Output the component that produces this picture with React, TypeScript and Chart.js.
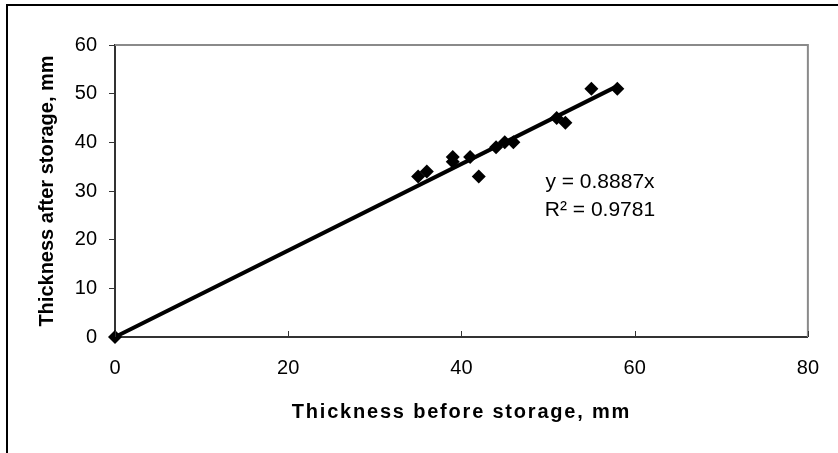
import React, { useEffect, useRef } from "react";
import { Chart, registerables } from "chart.js";

Chart.register(...registerables);

const beforeStorage = [0, 35, 36, 39, 39, 41, 42, 44, 45, 46, 51, 52, 55, 58];
const afterStorage = [0, 33, 34, 37, 36, 37, 33, 39, 40, 40, 45, 44, 51, 51];
const trendSlope = 0.8887;
const trendRange = [0, 58];
const xTicks = [0, 20, 40, 60, 80];
const yTicks = [0, 10, 20, 30, 40, 50, 60];
const equationText = "y = 0.8887x";
const r2Text = "R² = 0.9781";
const xTitle = "Thickness before storage, mm";
const yTitle = "Thickness after storage, mm";

const FONT = "'Liberation Sans', Arial, sans-serif";

const decorPlugin = {
  id: "decor",
  beforeDraw(chart: any) {
    (chart.ctx as any).letterSpacing = "0px";
  },
  afterDraw(chart: any) {
    const { ctx, chartArea, scales } = chart;
    const { left, right, top, bottom } = chartArea;
    ctx.save();
    ctx.strokeStyle = "#000";
    ctx.lineWidth = 2;
    ctx.beginPath();
    ctx.moveTo(7, 453);
    ctx.lineTo(7, 5);
    ctx.lineTo(838, 5);
    ctx.stroke();
    ctx.strokeStyle = "#8a8a8a";
    ctx.lineWidth = 2;
    ctx.beginPath();
    ctx.moveTo(left, top);
    ctx.lineTo(right, top);
    ctx.lineTo(right, bottom);
    ctx.stroke();
    ctx.strokeStyle = "#333";
    ctx.lineWidth = 1;
    xTicks.forEach((v) => {
      const px = Math.round(scales.x.getPixelForValue(v)) + 0.5;
      ctx.beginPath();
      ctx.moveTo(px, bottom);
      ctx.lineTo(px, bottom - 6);
      ctx.stroke();
    });
    ctx.fillStyle = "#000";
    ctx.font = `21px ${FONT}`;
    ctx.textAlign = "center";
    ctx.textBaseline = "middle";
    ctx.fillText(equationText, 600, 182);
    ctx.fillText(r2Text, 600, 210);
    ctx.font = `bold 20px ${FONT}`;
    (ctx as any).letterSpacing = "1.8px";
    ctx.fillText(xTitle, (left + right) / 2, 412);
    (ctx as any).letterSpacing = "0px";
    ctx.translate(47, (top + bottom) / 2);
    ctx.rotate(-Math.PI / 2);
    ctx.fillText(yTitle, 0, 0);
    ctx.restore();
    (ctx as any).letterSpacing = "0px";
  },
};

export default function App() {
  const ref = useRef<HTMLCanvasElement | null>(null);
  useEffect(() => {
    if (!ref.current) return;
    const points = beforeStorage.map((x, i) => ({ x, y: afterStorage[i] }));
    const trend = trendRange.map((x) => ({ x, y: trendSlope * x }));
    const chart = new Chart(ref.current, {
      type: "scatter",
      data: {
        datasets: [
          {
            type: "scatter",
            data: points,
            pointStyle: "rectRot",
            pointRadius: 7,
            backgroundColor: "#000",
            borderColor: "#000",
            borderWidth: 0,
            order: 0,
            clip: false,
          } as any,
          {
            type: "line",
            data: trend,
            borderColor: "#000",
            borderWidth: 4,
            pointRadius: 0,
            fill: false,
            order: 1,
            clip: false,
          } as any,
        ],
      },
      options: {
        responsive: false,
        devicePixelRatio: 1,
        animation: false,
        layout: { padding: { left: 0, top: 45, right: 23, bottom: 0 } },
        plugins: { legend: { display: false }, tooltip: { enabled: false } },
        scales: {
          x: {
            type: "linear",
            min: 0,
            max: 80,
            afterFit: (s: any) => {
              s.height = 116;
            },
            afterBuildTicks: (s: any) => {
              s.ticks = xTicks.map((v) => ({ value: v }));
            },
            ticks: {
              color: "#000",
              font: { family: FONT, size: 20 },
              padding: 19,
              maxRotation: 0,
            },
            grid: { display: true, drawOnChartArea: false, drawTicks: false },
            border: { display: true, color: "#333", width: 2 },
          },
          y: {
            type: "linear",
            min: 0,
            max: 60,
            afterFit: (s: any) => {
              s.width = 115;
            },
            afterBuildTicks: (s: any) => {
              s.ticks = yTicks.map((v) => ({ value: v }));
            },
            ticks: {
              color: "#000",
              font: { family: FONT, size: 20 },
              padding: 12,
            },
            grid: {
              display: true,
              drawOnChartArea: false,
              drawTicks: true,
              tickLength: 6,
              color: "#333",
            },
            border: { display: true, color: "#333", width: 2 },
          },
        },
      },
      plugins: [decorPlugin],
    });
    return () => chart.destroy();
  }, []);
  return (
    <div style={{ position: "fixed", left: 0, top: 0, width: 838, height: 453, background: "#fff" }}>
      <canvas ref={ref} width={838} height={453} style={{ display: "block" }} />
    </div>
  );
}
